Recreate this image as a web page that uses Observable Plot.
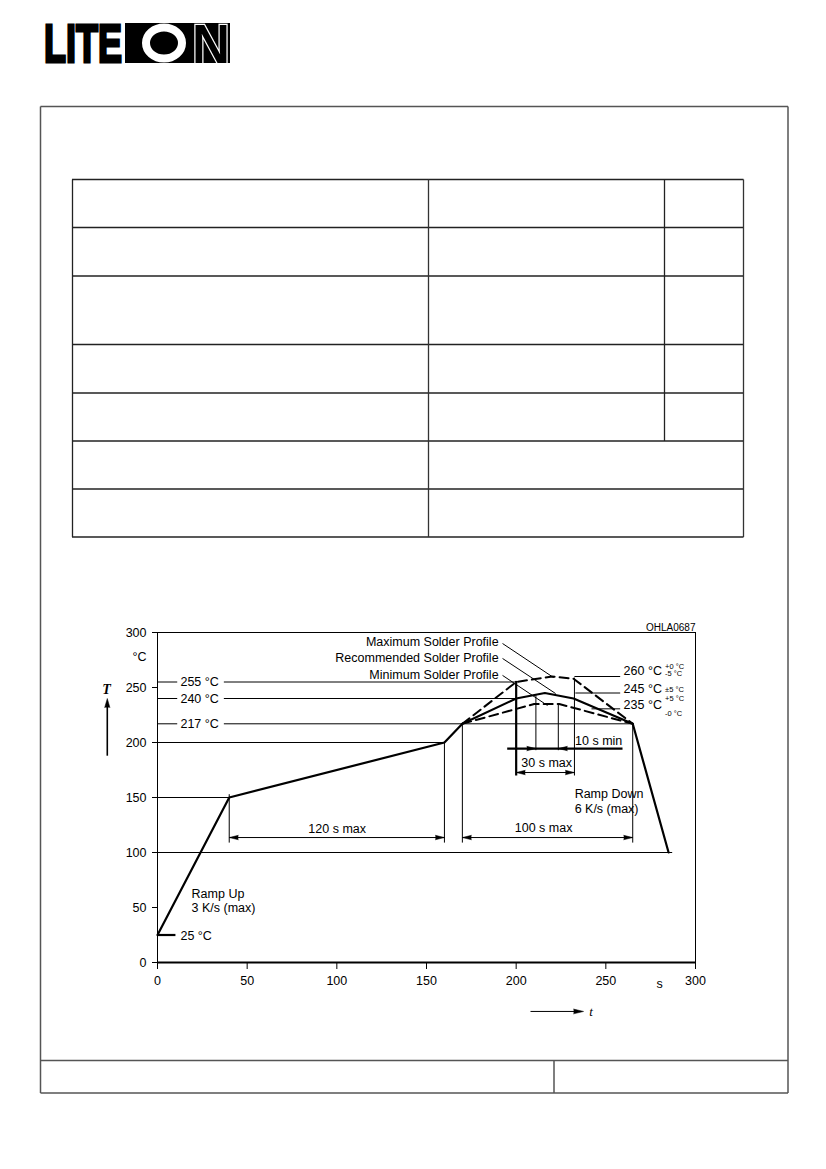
<!DOCTYPE html>
<html>
<head>
<meta charset="utf-8">
<script src="https://cdn.jsdelivr.net/npm/d3@7"></script>
<script src="https://cdn.jsdelivr.net/npm/@observablehq/plot@0.6"></script>
<style>
  html, body { margin: 0; padding: 0; background: #fff; }
  body { width: 826px; height: 1169px; position: relative; overflow: hidden; font-family: "Liberation Sans", Arial, sans-serif; }
  .abs { position: absolute; }
</style>
</head>
<body>
<svg class="abs" style="left:0;top:0;z-index:2" width="260" height="80">
  <text x="44" y="62" font-family="Liberation Sans, Arial, sans-serif" font-weight="bold" font-size="54" textLength="78" lengthAdjust="spacingAndGlyphs" fill="#000" stroke="#000" stroke-width="3" stroke-linejoin="miter">LITE</text>
  <rect x="125" y="23" width="105" height="40" fill="#000"/>
  <ellipse cx="164" cy="43" rx="18" ry="15.5" fill="none" stroke="#fff" stroke-width="8"/>
  <text x="192" y="63" font-family="Liberation Sans, Arial, sans-serif" font-weight="bold" font-size="55" textLength="38" lengthAdjust="spacingAndGlyphs" fill="#000" stroke="#fff" stroke-width="2.5" paint-order="stroke">N</text>
</svg>
<div id="chart" class="abs" style="left:0;top:600px;z-index:1"></div>
<script>
// ---------- data ----------
const timeTicks = [0, 50, 100, 150, 200, 250, 300];
const tempTicks = [0, 50, 100, 150, 200, 250, 300];

// recommended (solid) profile, s / °C
const recTime = [0, 40, 160, 170, 200, 216, 232, 265, 285];
const recTemp = [25, 150, 200, 217, 240, 245, 240, 217, 100];
// maximum (dashed) profile
const maxTime = [170, 200, 220, 232, 265];
const maxTemp = [217, 255, 260, 258, 217];
// minimum (dashed) profile
const minTime = [170, 210, 224, 265];
const minTemp = [217, 235, 235, 217];

// horizontal guide lines: level, start time, end time
const guideLevel = [200, 150, 100, 255, 255, 240, 240, 217, 217, 260, 245, 230.6, 25];
const guideFrom  = [-3, -3, 0, 0, 37, 0, 37, 0, 37, 232.5, 233, 242, 0];
const guideTo    = [160, 40, 287, 11, 200, 11, 200, 11, 265, 258, 258, 258, 10];
const guideBold  = [false, false, false, false, false, false, false, false, false, false, false, false, true];

// vertical guide lines: time, from temp, to temp
const vTime = [40, 160, 170, 265, 232.5, 211, 223.5, 200];
const vFrom = [153, 200, 217, 217, 259, 243, 235, 256];
const vTo   = [109, 109, 109, 109, 170, 193, 193, 170];
const vBold = [false, false, false, false, false, false, false, true];

// dimension lines: level, from, to
const dimLevel = [113.6, 113.6, 172.7, 194.5];
const dimFrom  = [40, 170, 200, 195];
const dimTo    = [160, 265, 232.5, 259.3];
const dimBold  = [false, false, false, true];

// arrow heads: tip time, tip temp, direction (deg clockwise from up)
const headTime = [40, 160, 170, 265, 200, 232.5, 211, 223.5];
const headTemp = [113.6, 113.6, 113.6, 113.6, 172.7, 172.7, 194.5, 194.5];
const headDir  = [270, 90, 270, 90, 270, 90, 90, 270];

// profile leader lines
const leaderX1 = [192.4, 192.4, 192.4];
const leaderY1 = [290, 276.4, 261];
const leaderX2 = [220.9, 222, 217.5];
const leaderY2 = [259, 244.5, 233.6];

// annotation texts
const midText = ["120 s max", "100 s max", "30 s max", "10 s min"];
const midTime = [100.2, 215.3, 217, 246];
const midTemp = [121.8, 122.7, 181.8, 201];

const startText = ["Ramp Up", "3 K/s (max)", "Ramp Down", "6 K/s (max)", "25 °C",
                   "255 °C", "240 °C", "217 °C", "260 °C", "245 °C", "235 °C"];
const startTime = [19, 19, 232.6, 232.6, 12.8, 12.8, 12.8, 12.8, 259.9, 259.9, 259.9];
const startTemp = [62.7, 49.4, 153.6, 140, 24.5, 255, 240, 217, 265.2, 248.8, 234.3];

const profileNames = ["Maximum Solder Profile", "Recommended Solder Profile", "Minimum Solder Profile"];
const profileNameTime = [190.2, 190.2, 190.2];
const profileNameTemp = [291.8, 276.4, 261.8];

const tolText = ["+0 °C", "-5 °C", "±5 °C", "+5 °C", "-0 °C"];
const tolTime = [283, 283, 283, 283, 283];
const tolTemp = [269, 262.7, 248.5, 240, 226.4];

// ---------- decorative page frame and (empty) table ----------
const deco = d3.select("body").insert("svg", ":first-child")
  .attr("class", "abs").style("left", "0").style("top", "0").style("z-index", "0")
  .attr("width", 826).attr("height", 1169);
const ln = (x1, y1, x2, y2, c, w) => deco.append("line")
  .attr("x1", x1).attr("y1", y1).attr("x2", x2).attr("y2", y2)
  .attr("stroke", c).attr("stroke-width", w);
// outer frame
ln(40.5, 106.5, 788, 106.5, "#555", 1.5);
ln(40.5, 106.5, 40.5, 1093, "#555", 1.5);
ln(788, 106.5, 788, 1093, "#555", 1.5);
ln(40.5, 1093, 788, 1093, "#555", 1.5);
ln(40.5, 1060.5, 788, 1060.5, "#555", 1.5);
ln(554, 1060.5, 554, 1093, "#555", 1.5);
// table
const rowsY = [179.5, 227.5, 276, 344.5, 393, 441, 489, 537];
rowsY.forEach(y => ln(72, y, 743.5, y, "#222", 1.3));
ln(72.5, 179.5, 72.5, 537, "#222", 1.3);
ln(743.5, 179.5, 743.5, 537, "#333", 1.3);
ln(428.5, 179.5, 428.5, 537, "#333", 1.3);
ln(664.5, 179.5, 664.5, 441, "#222", 1.3);

// ---------- chart ----------
const idx = n => d3.range(n);
const FONT = '"Liberation Sans", Arial, sans-serif';
const SERIF = '"Liberation Serif", "DejaVu Serif", serif';

const chart = Plot.plot({
  width: 826,
  height: 430,
  marginLeft: 157,
  marginRight: 131,
  marginTop: 32,
  marginBottom: 68,
  style: { background: "none", fontFamily: FONT, fontSize: "12.5px", color: "black" },
  x: { domain: [0, 300], ticks: timeTicks, tickSize: 7, tickPadding: 7, label: null },
  y: { domain: [0, 300], ticks: tempTicks, tickSize: 5, tickPadding: 6, label: null },
  marks: [
    Plot.frame({ stroke: "black", strokeWidth: 1 }),
    Plot.ruleY([0], { stroke: "black", strokeWidth: 2.2 }),

    // horizontal guides
    Plot.link(idx(guideLevel.length), {
      x1: i => guideFrom[i], x2: i => guideTo[i],
      y1: i => guideLevel[i], y2: i => guideLevel[i],
      stroke: "black", strokeWidth: i => guideBold[i] ? 2.2 : 1
    }),
    // vertical guides
    Plot.link(idx(vTime.length), {
      x1: i => vTime[i], x2: i => vTime[i],
      y1: i => vFrom[i], y2: i => vTo[i],
      stroke: "black", strokeWidth: i => vBold[i] ? 2.2 : 1
    }),
    // dimension lines
    Plot.link(idx(dimLevel.length), {
      x1: i => dimFrom[i], x2: i => dimTo[i],
      y1: i => dimLevel[i], y2: i => dimLevel[i],
      stroke: "black", strokeWidth: i => dimBold[i] ? 2.2 : 1
    }),
    Plot.vector(idx(headTime.length), {
      x: i => headTime[i], y: i => headTemp[i], rotate: i => headDir[i],
      length: 9, r: 2.2, shape: "spike", anchor: "end",
      fill: "black", stroke: "black", strokeWidth: 0.5
    }),

    // leader lines to profiles
    Plot.link(idx(leaderX1.length), {
      x1: i => leaderX1[i], y1: i => leaderY1[i],
      x2: i => leaderX2[i], y2: i => leaderY2[i],
      stroke: "black", strokeWidth: 1
    }),

    // profiles
    Plot.line(idx(maxTime.length), {
      x: i => maxTime[i], y: i => maxTemp[i],
      stroke: "black", strokeWidth: 2, strokeDasharray: "9,5"
    }),
    Plot.line(idx(minTime.length), {
      x: i => minTime[i], y: i => minTemp[i],
      stroke: "black", strokeWidth: 2, strokeDasharray: "9,5"
    }),
    Plot.line(idx(recTime.length), {
      x: i => recTime[i], y: i => recTemp[i],
      stroke: "black", strokeWidth: 2.2, strokeLinejoin: "miter"
    }),

    // axis direction arrows (T up, t right)
    Plot.link([0], { x1: -28, x2: -28, y1: 188, y2: 234, stroke: "black", strokeWidth: 1.6 }),
    Plot.vector([0], { x: -28, y: 240, rotate: 0, length: 9, r: 2.6, shape: "spike", anchor: "end", fill: "black", stroke: "black", strokeWidth: 0.5 }),
    Plot.text(["T"], { x: -28.4, y: 248, text: d => d, fontFamily: SERIF, fontStyle: "italic", fontWeight: "bold", fontSize: 14 }),
    Plot.link([0], { x1: 208, x2: 233, y1: -44.5, y2: -44.5, stroke: "black", strokeWidth: 1 }),
    Plot.vector([0], { x: 237.6, y: -44.5, rotate: 90, length: 10, r: 2.4, shape: "spike", anchor: "end", fill: "black", stroke: "black", strokeWidth: 0.5 }),
    Plot.text(["t"], { x: 240.8, y: -44.5, text: d => d, textAnchor: "start", fontFamily: SERIF, fontStyle: "italic", fontSize: 13 }),

    // unit labels
    Plot.text(["°C"], { x: 0, y: 277.3, dx: -11, text: d => d, textAnchor: "end", fontSize: 12.5 }),
    Plot.text(["s"], { x: 280, y: 0, dy: 21, text: d => d, fontSize: 12.5 }),
    Plot.text(["OHLA0687"], { x: 300, y: 304.5, text: d => d, textAnchor: "end", fontSize: 10, letterSpacing: "0.3px" }),

    // annotations
    Plot.text(idx(midText.length), {
      x: i => midTime[i], y: i => midTemp[i], text: i => midText[i],
      textAnchor: "middle", fontSize: 12.5
    }),
    Plot.text(idx(startText.length), {
      x: i => startTime[i], y: i => startTemp[i], text: i => startText[i],
      textAnchor: "start", fontSize: 12.5
    }),
    Plot.text(idx(profileNames.length), {
      x: i => profileNameTime[i], y: i => profileNameTemp[i], text: i => profileNames[i],
      textAnchor: "end", fontSize: 12.5
    }),
    Plot.text(idx(tolText.length), {
      x: i => tolTime[i], y: i => tolTemp[i], text: i => tolText[i],
      textAnchor: "start", fontSize: 7.5
    })
  ]
});
document.getElementById("chart").appendChild(chart);
</script>
</body>
</html>
